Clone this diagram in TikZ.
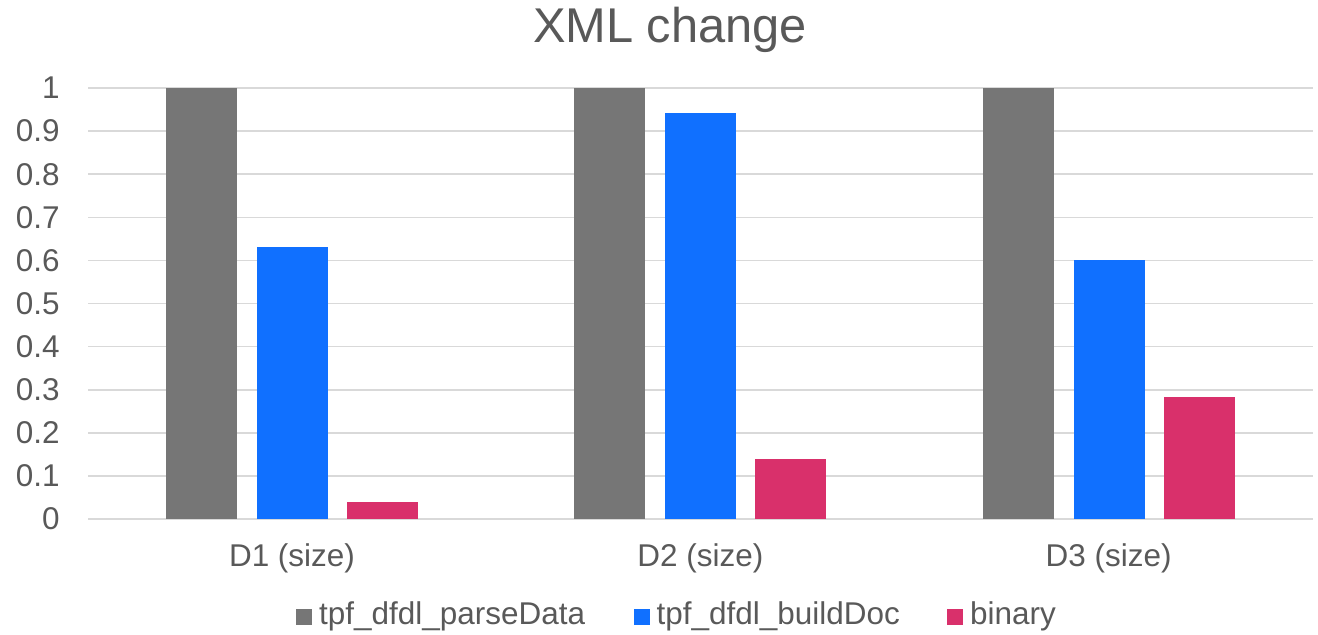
\documentclass[tikz,border=0pt]{standalone}
\usepackage{fontspec}
\setmainfont{Liberation Sans}
\usepackage{tikz}
\usetikzlibrary{positioning}
\definecolor{txtgray}{HTML}{595959}
\definecolor{gridgray}{HTML}{D9D9D9}
\definecolor{parsegray}{HTML}{767676}
\definecolor{buildblue}{HTML}{1070FF}
\definecolor{binpink}{HTML}{D9306B}

\begin{document}
\begin{tikzpicture}[x=0.75pt,y=-0.75pt,
                    font=\fontsize{23.6}{28}\selectfont,text=txtgray]
  \tikzstyle{grid line}=[draw=gridgray,line width=1.2pt]
  \tikzstyle{tick label}=[anchor=east,inner sep=0pt]
  \tikzstyle{cat label}=[inner sep=0pt]
  \tikzstyle{key box}=[minimum size=12pt,inner sep=0pt]
  \tikzstyle{key text}=[anchor=base west,inner sep=0pt]

  \useasboundingbox (0,0) rectangle (1318,635);

  \node[anchor=base] (title) at (670,43) {\fontsize{36.6}{40}\selectfont XML change};

  % gridlines and axis values
  \foreach \v [count=\k from 0] in {0,0.1,0.2,0.3,0.4,0.5,0.6,0.7,0.8,0.9,1} {
    \draw[grid line] (88,519-43.1*\k) -- (1313,519-43.1*\k);
    \node[tick label] (y\k) at (60,519-43.1*\k) {\v};
  }

  % bars
  \foreach \c/\a/\b [count=\i from 0] in {1/0.63/0.04, 2/0.942/0.139, 3/0.601/0.283} {
    \pgfmathsetmacro\xo{166+408.33*\i}
    \fill[parsegray] (\xo,519) rectangle ++(71,-431);
    \fill[buildblue] (\xo+91,519) rectangle ++(71,-431*\a);
    \fill[binpink] (\xo+181,519) rectangle ++(71,-431*\b);
    \node[cat label] (cat\c) at (\xo+126,558) {D\c\ (size)};
  }

  % legend
  \node[key box,fill=parsegray] (k1) at (304,616.5) {};
  \node[key text] (t1) at ([xshift=5pt]k1.south east) {tpf\_dfdl\_parseData};
  \node[key box,fill=buildblue] (k2) at (641.5,616.5) {};
  \node[key text] (t2) at ([xshift=5pt]k2.south east) {tpf\_dfdl\_buildDoc};
  \node[key box,fill=binpink] (k3) at (955,616.5) {};
  \node[key text] (t3) at ([xshift=5pt]k3.south east) {binary};

\end{tikzpicture}
\end{document}
